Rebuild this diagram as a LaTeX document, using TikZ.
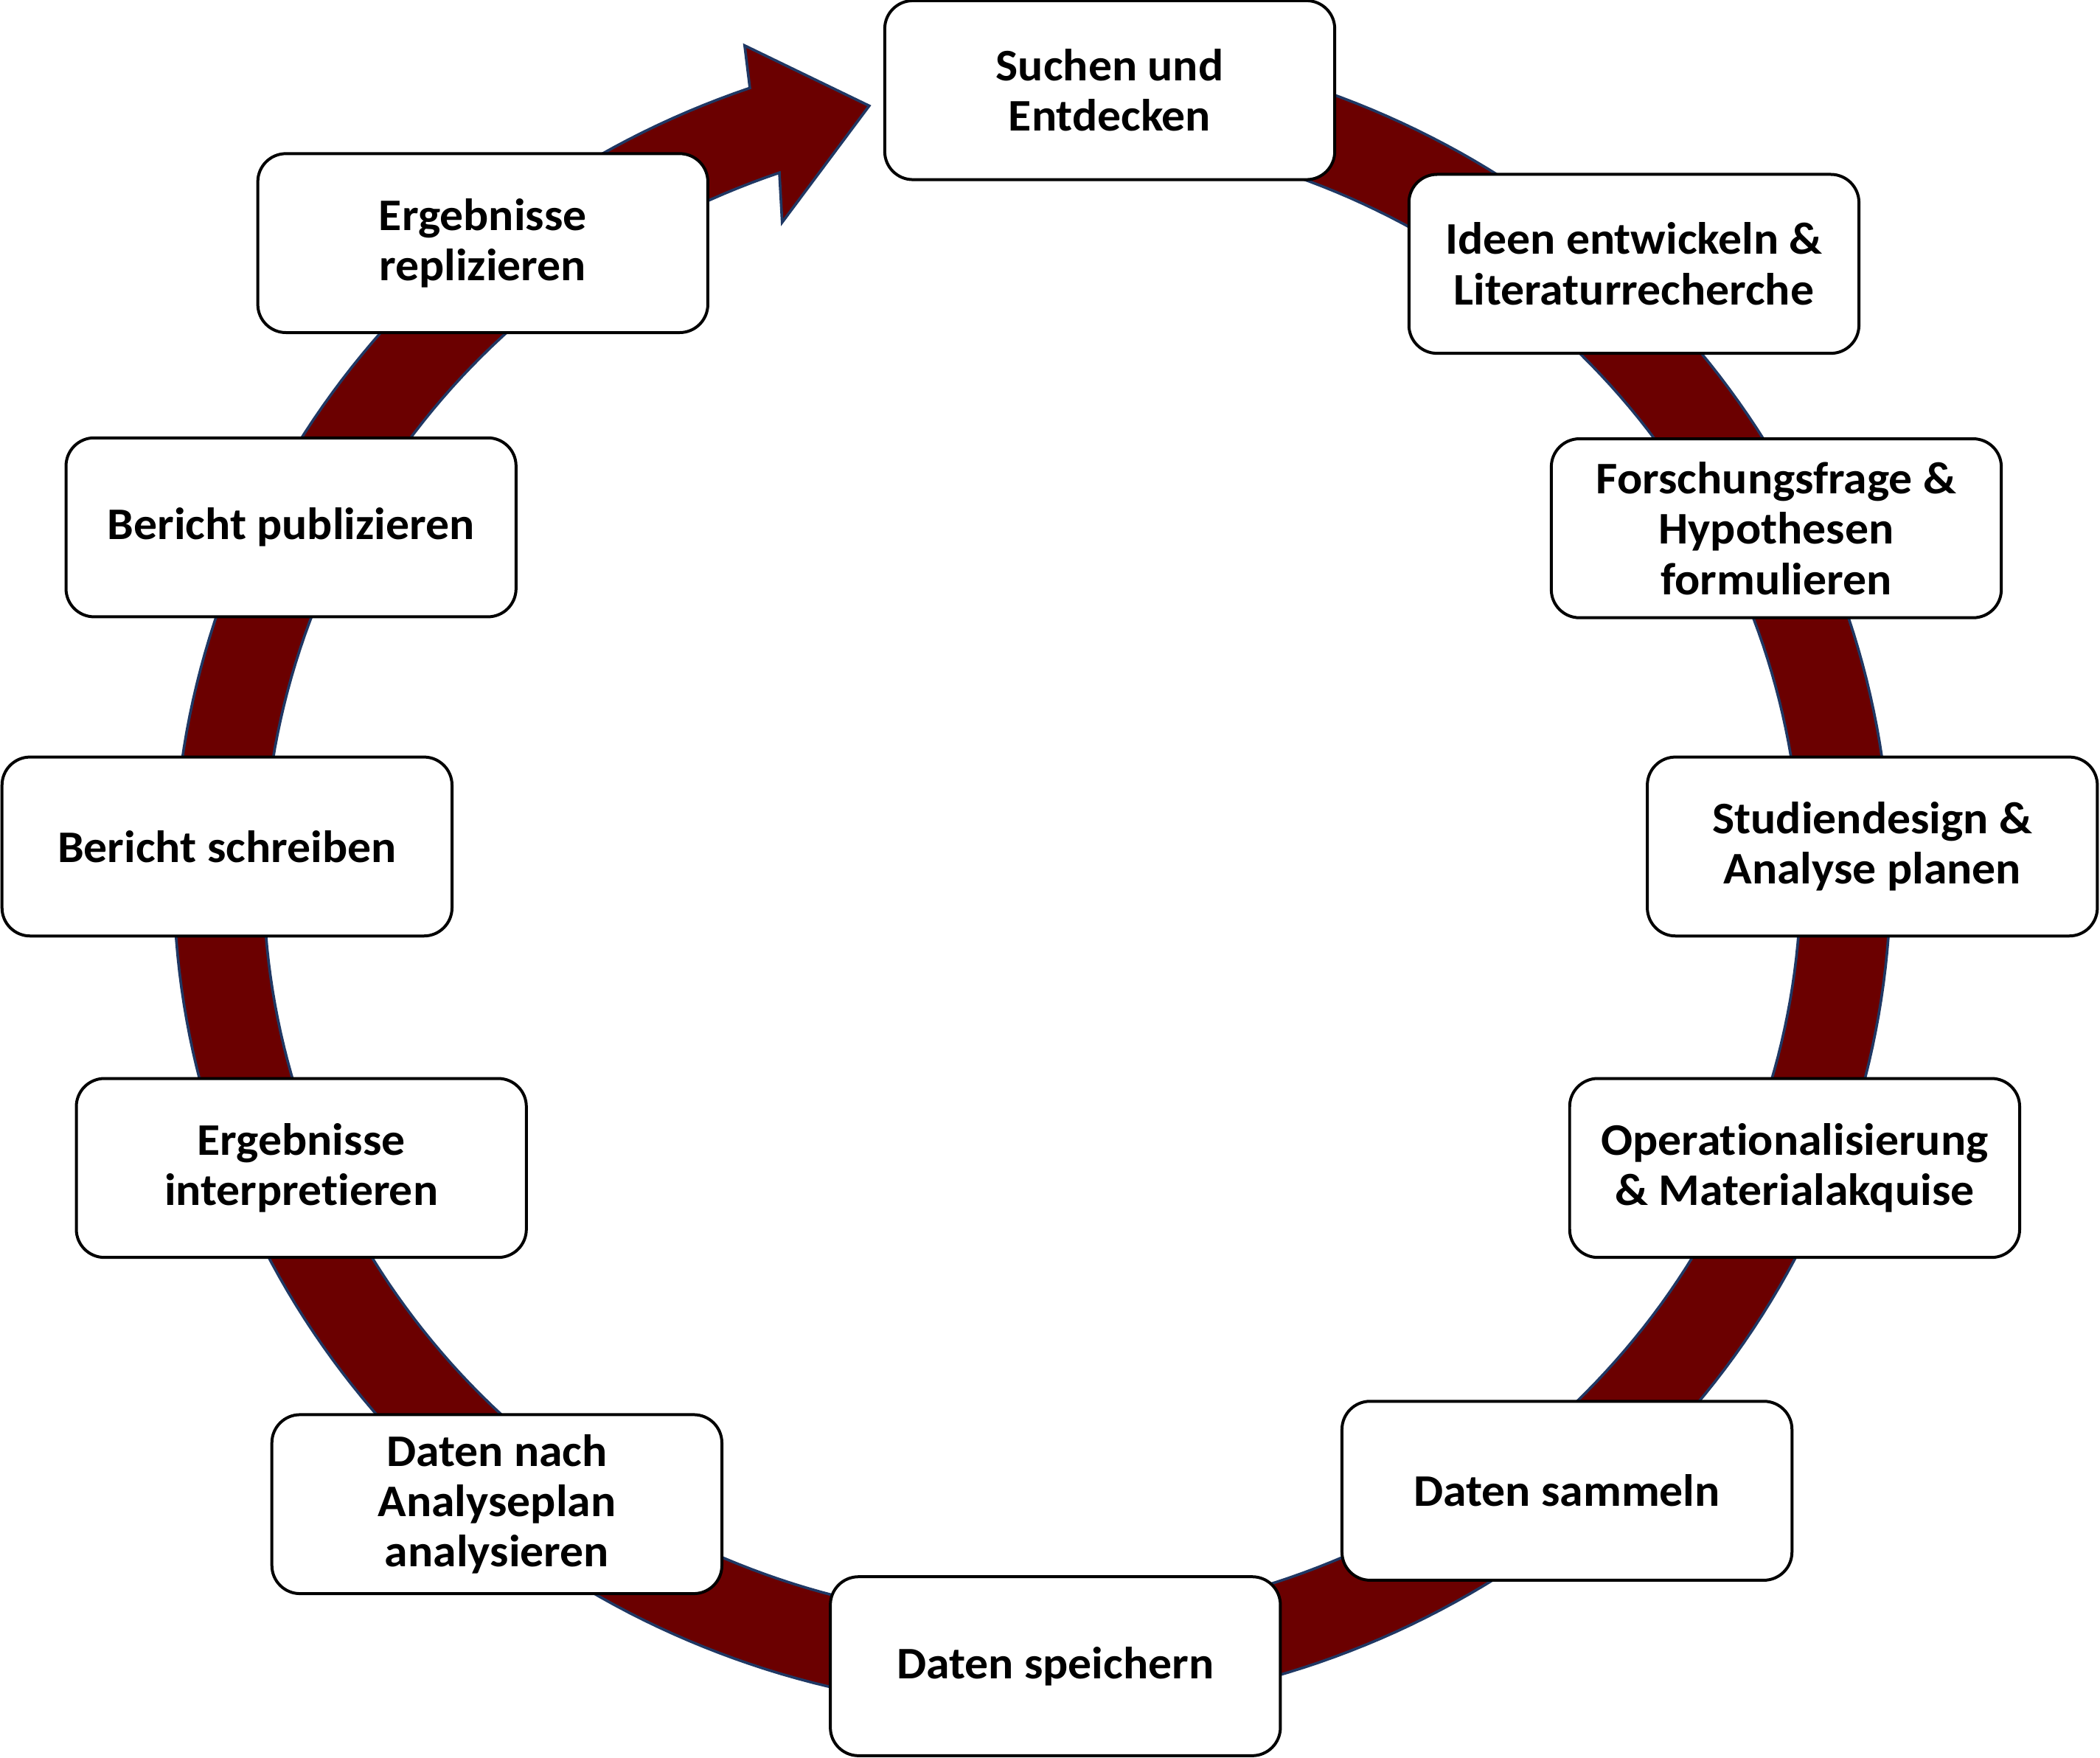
\documentclass[tikz,border=0pt]{standalone}
\usepackage{fontspec}
\setmainfont{Carlito}[FakeStretch=1.04, Ligatures=NoCommon]
\definecolor{ringred}{HTML}{6B0000}
\definecolor{ringline}{HTML}{1F3864}
\begin{document}
\begin{tikzpicture}[x=0.25mm,y=-0.25mm,
  stepbox/.style={draw=black, line width=0.55mm, rounded corners=5.25mm, fill=white,
    minimum width=84mm, minimum height=33.4mm, align=center, inner sep=0pt,
    font=\fontsize{24}{26.8}\selectfont\bfseries},
  ring/.style={fill=ringred, draw=ringline, line width=0.5mm, line join=miter}]
\useasboundingbox (0,0) rectangle (1568,1312.5);
\fill[white] (0,0) rectangle (1568,1312.5);
% circular arrow
\filldraw[ring]
  plot[domain=80:-250.8, samples=300] ({770.7+641*cos(\x)},{654-623*sin(\x)})
  -- (556,34) -- (649,79) -- (584,166)
  -- plot[domain=-250.8:80, samples=300] ({770.7+574*cos(\x)},{654-556*sin(\x)})
  -- cycle;
% boxes
\node[stepbox] (s1)  at (828.6,67.3)  {Suchen und\\Entdecken};
\node[stepbox] (s2)  at (1220,197)    {Ideen entwickeln \&\\Literaturrecherche};
\node[stepbox] (s3)  at (1326.3,394.4){Forschungsfrage \&\\Hypothesen\\formulieren};
\node[stepbox] (s4)  at (1398,632)    {Studiendesign \&\\Analyse planen};
\node[stepbox] (s5)  at (1340,872)    {Operationalisierung\\\& Materialakquise};
\node[stepbox] (s6)  at (1170,1113)   {Daten sammeln};
\node[stepbox] (s7)  at (788,1244)    {Daten speichern};
\node[stepbox] (s8)  at (371,1123)    {Daten nach\\Analyseplan\\analysieren};
\node[stepbox] (s9)  at (225,872)     {Ergebnisse\\interpretieren};
\node[stepbox] (s10) at (169.5,632)   {Bericht schreiben};
\node[stepbox] (s11) at (217.3,393.7) {Bericht publizieren};
\node[stepbox] (s12) at (360.5,181.5) {Ergebnisse\\replizieren};
\end{tikzpicture}
\end{document}
